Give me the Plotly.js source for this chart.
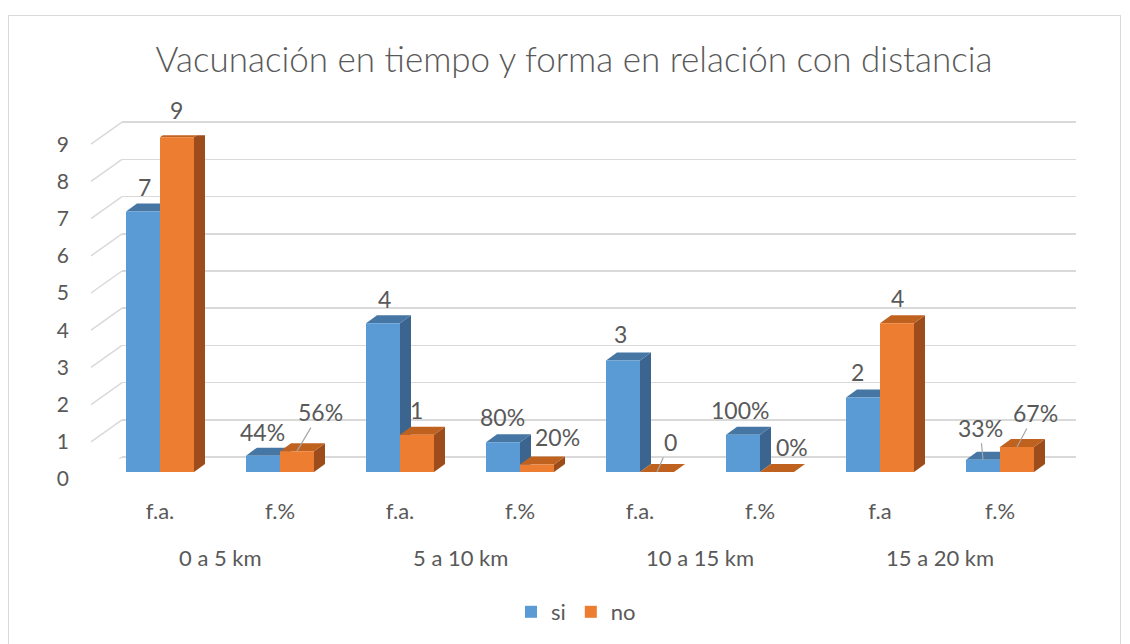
<!DOCTYPE html>
<html>
<head>
<meta charset="utf-8">
<script src="https://cdn.plot.ly/plotly-3.0.1.min.js"></script>
<style>
  html, body { margin: 0; padding: 0; background: #ffffff; }
  #frame { position: absolute; left: 8px; top: 15px; width: 1113px; height: 640px; border: 1px solid #d9d9d9; box-sizing: border-box; }
  #chart { position: absolute; left: 0; top: 0; width: 1130px; height: 644px; }
</style>
</head>
<body>
<div id="frame"></div>
<div id="chart"></div>
<script>
// ---------- data ----------
var groupNames = ['0 a 5 km', '5 a 10 km', '10 a 15 km', '15 a 20 km'];
var subLabels = ['f.a.', 'f.%', 'f.a.', 'f.%', 'f.a.', 'f.%', 'f.a', 'f.%'];
var siValues = [7, 0.44, 4, 0.80, 3, 1.00, 2, 0.33];
var noValues = [9, 0.56, 1, 0.20, 0, 0.00, 4, 0.67];
var siLabels = ['7', '44%', '4', '80%', '3', '100%', '2', '33%'];
var noLabels = ['9', '56%', '1', '20%', '0', '0%', '4', '67%'];
var yTicks = [0, 1, 2, 3, 4, 5, 6, 7, 8, 9];
var seriesNames = ['si', 'no'];

// ---------- layout constants (pixels) ----------
var W = 1130, H = 644;
var unitPx = 37.2;           // pixels per value unit
var frontZero = 472;         // bar base (front)
var labelZero = 479;         // tick labels level (front floor edge)
var backZero = 457;          // back wall gridlines
var yMax = 9, pad = 0.05;
var plotLeft = 100, plotRight = 1060;
var backLeft = 122, backRight = 1076;
var nCat = subLabels.length;
var catPx = (plotRight - plotLeft) / nCat;
var bargap = 1 - 68 / catPx;
var barW = (1 - bargap) / 2;        // in data units
var depthX = 11 / catPx;            // 3D depth in data units
var depthY = 8 / unitPx;

var colors = {
  siFront: '#5B9BD5', siTop: '#4676A3', siSide: '#3B658F',
  noFront: '#ED7D31', noTop: '#C0621F', noSide: '#9C4D1B'
};
var txt = '#595959';
var fontFam = 'Lato, "Open Sans", sans-serif';

function px(x) { return x / W; }
function py(y) { return 1 - y / H; }
function yDom(zeroPix) {
  return [py(zeroPix + pad * unitPx), py(zeroPix - (yMax + pad) * unitPx)];
}

// ---------- traces ----------
var xIdx = subLabels.map(function (_, i) { return i; });
var traces = [
  { type: 'scatter', x: [], y: [], xaxis: 'x', yaxis: 'y', showlegend: false, hoverinfo: 'skip' },
  { type: 'bar', name: seriesNames[0], x: xIdx, y: siValues, xaxis: 'x2', yaxis: 'y2',
    marker: { color: colors.siFront, line: { width: 0 } }, hoverinfo: 'skip' },
  { type: 'bar', name: seriesNames[1], x: xIdx, y: noValues, xaxis: 'x2', yaxis: 'y2',
    marker: { color: colors.noFront, line: { width: 0 } }, hoverinfo: 'skip' }
];

// ---------- 3D faces (data coordinates) ----------
var shapes = [];
function faces(vals, left, topC, sideC) {
  vals.forEach(function (v, i) {
    var x0 = i + left, x1 = x0 + barW;
    shapes.push({ type: 'path', xref: 'x2', yref: 'y2', layer: 'below', line: { width: 0 }, fillcolor: sideC,
      path: 'M' + x1 + ',0 L' + x1 + ',' + v + ' L' + (x1 + depthX) + ',' + (v + depthY) +
            ' L' + (x1 + depthX) + ',' + depthY + ' Z' });
    shapes.push({ type: 'path', xref: 'x2', yref: 'y2', layer: 'below', line: { width: 0 }, fillcolor: topC,
      path: 'M' + x0 + ',' + v + ' L' + x1 + ',' + v + ' L' + (x1 + depthX) + ',' + (v + depthY) +
            ' L' + (x0 + depthX) + ',' + (v + depthY) + ' Z' });
  });
}
faces(siValues, -barW, colors.siTop, colors.siSide);
faces(noValues, 0, colors.noTop, colors.noSide);

// side-wall diagonals for each gridline
yTicks.forEach(function (t) {
  shapes.push({ type: 'line', xref: 'paper', yref: 'y', ysizemode: 'pixel', yanchor: t,
    x0: px(backLeft), y0: 0, x1: px(91), y1: -(labelZero - backZero),
    line: { color: '#d9d9d9', width: 1.5 }, layer: 'below' });
});

// ---------- annotations ----------
var siOff = [[1, 25, 0], [-1, 24, 0], [1, 24, 0], [-1, 25, 0], [-3, 26, 0], [-3, 25, 0], [-6, 26, 0], [-3, 32, 1]];
var noOff = [[-1, 27, 0], [23, 39, 1], [-1, 25, 0], [20, 28, 0], [13, 30, 1], [15, 25, 0], [0, 25, 0], [18, 34, 1]];
var annotations = [];
function labels(vals, texts, offs, centerShift) {
  vals.forEach(function (v, i) {
    var o = offs[i];
    var a = { x: i + centerShift, y: v, xref: 'x2', yref: 'y2', text: texts[i],
      font: { family: fontFam, size: 23, color: txt } };
    if (o[2]) {
      a.showarrow = true; a.arrowhead = 0; a.arrowwidth = 1.2; a.arrowcolor = '#a6a6a6';
      a.ax = o[0]; a.ay = -o[1]; a.standoff = 0;
    } else {
      a.showarrow = false; a.xshift = o[0]; a.yshift = o[1]; a.yanchor = 'middle';
    }
    annotations.push(a);
  });
}
labels(siValues, siLabels, siOff, -barW / 2);
labels(noValues, noLabels, noOff, barW / 2);
groupNames.forEach(function (g, k) {
  annotations.push({ x: 2 * k + 0.5, y: py(557), xref: 'x2', yref: 'paper', text: g, showarrow: false,
    yanchor: 'middle', font: { family: fontFam, size: 22, color: txt } });
});

// ---------- layout ----------
var layout = {
  width: W, height: H,
  margin: { l: 0, r: 0, t: 0, b: 0 },
  paper_bgcolor: 'rgba(0,0,0,0)', plot_bgcolor: 'rgba(0,0,0,0)',
  font: { family: fontFam, color: txt },
  title: { text: 'Vacunación en tiempo y forma en relación con distancia',
    x: px(574), xanchor: 'center', y: py(60), yanchor: 'middle',
    font: { family: fontFam, size: 35, color: txt, weight: 300 } },
  barmode: 'group', bargap: bargap, bargroupgap: 0,
  xaxis: { domain: [px(backLeft), px(backRight)], range: [0, 1], visible: false, fixedrange: true },
  yaxis: { domain: yDom(backZero), range: [-pad, yMax + pad], anchor: 'x', tickvals: yTicks,
    showgrid: true, gridcolor: '#d9d9d9', gridwidth: 1.5, zeroline: false, showticklabels: false,
    showline: false, ticks: '', fixedrange: true },
  xaxis2: { domain: [px(plotLeft), px(plotRight)], range: [-0.5, nCat - 0.5], anchor: 'free',
    position: py(496), tickvals: xIdx, ticktext: subLabels, showgrid: false, zeroline: false,
    showline: false, ticks: '', tickfont: { family: fontFam, size: 22, color: txt }, fixedrange: true },
  yaxis2: { domain: yDom(frontZero), range: [-pad, yMax + pad], anchor: 'free', position: px(69),
    tickvals: yTicks, ticktext: yTicks.map(String), showgrid: false, zeroline: false, showline: false,
    ticks: '', ticklabelshift: (labelZero - frontZero),
    tickfont: { family: fontFam, size: 21, color: txt }, fixedrange: true },
  showlegend: true,
  legend: { orientation: 'h', x: px(576), xanchor: 'center', y: py(612), yanchor: 'middle',
    font: { family: fontFam, size: 22, color: txt }, itemwidth: 30, traceorder: 'normal' },
  shapes: shapes,
  annotations: annotations
};

Plotly.newPlot('chart', traces, layout, { displayModeBar: false, staticPlot: true });
</script>
</body>
</html>
